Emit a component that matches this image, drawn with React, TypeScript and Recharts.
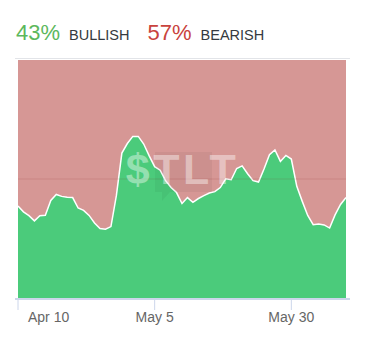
import { Area, AreaChart, CartesianGrid, ReferenceLine, XAxis, YAxis } from "recharts";

// share of bullish messages per day, Apr 10 .. Jun 9
const bullish = [
  38.7, 36.2, 34.6, 32.4, 34.6, 34.8, 41.0, 43.5, 42.7, 42.3,
  42.2, 37.8, 36.8, 34.7, 31.5, 29.2, 28.9, 30.0, 43.1, 60.9,
  64.9, 67.9, 67.9, 64.7, 59.7, 55.2, 53.7, 49.3, 46.4, 44.3,
  39.7, 42.2, 40.2, 41.8, 43.0, 44.1, 44.7, 46.4, 50.1, 49.7,
  54.4, 55.5, 52.2, 49.3, 48.7, 54.2, 60.2, 62.2, 57.4, 59.9,
  58.4, 46.9, 40.6, 34.7, 30.8, 31.1, 30.7, 29.4, 34.9, 39.3,
  42.2,
];
const tickDays = [0, 25, 50];
const tickLabels = ["Apr 10", "May 5", "May 30"];
const summary = { bull: "43%", bear: "57%" };
const symbol = "$TLT";

const data = bullish.map((v, i) => ({ day: i, bullish: v }));

const font = '"Liberation Sans", Arial, sans-serif';

function DayTick(props: any) {
  const { x, y, index } = props;
  const first = index === 0;
  return (
    <g>
      <line x1={x} x2={x} y1={y + 1} y2={y + 12} stroke="#ccd6eb" strokeWidth={1} />
      <text
        x={first ? x + 10 : x}
        y={y + 23.5}
        textAnchor={first ? "start" : "middle"}
        fill="#666"
        fontSize={14}
        fontFamily={font}
      >
        {tickLabels[index]}
      </text>
    </g>
  );
}

export default function App() {
  return (
    <div style={{ position: "absolute", left: 0, top: 0, width: 370, height: 355, background: "#fff", fontFamily: font }}>
      <div style={{ position: "absolute", left: 16, top: 22, display: "flex", alignItems: "baseline", lineHeight: "22px", whiteSpace: "nowrap" }}>
        <span style={{ fontSize: 22, color: "#5cb85c" }}>{summary.bull}</span>
        <span style={{ fontSize: 14.5, color: "#353a40", marginLeft: 9 }}>BULLISH</span>
        <span style={{ fontSize: 22, color: "#c9433d", marginLeft: 18 }}>{summary.bear}</span>
        <span style={{ fontSize: 14.5, color: "#353a40", marginLeft: 9 }}>BEARISH</span>
      </div>

      <AreaChart width={370} height={355} data={data} margin={{ top: 60, right: 24, bottom: 27, left: 18 }}>
        <CartesianGrid horizontal={false} vertical={false} fill="#d69795" stroke="none" />
        <XAxis
          dataKey="day"
          type="number"
          domain={[0, 60]}
          ticks={tickDays}
          axisLine={false}
          tickLine={false}
          tickSize={0}
          tickMargin={0}
          height={30}
          tick={<DayTick />}
          interval={0}
        />
        <YAxis hide domain={[0, 100]} />
        <Area
          type="linear"
          dataKey="bullish"
          fill="#4bcb7b"
          fillOpacity={1}
          stroke="#ffffff"
          strokeWidth={1.5}
          isAnimationActive={false}
          dot={false}
          activeDot={false}
        />
        <ReferenceLine y={50} stroke="#8a3030" strokeOpacity={0.15} strokeWidth={1.2} />
      </AreaChart>

      <div style={{ position: "absolute", left: 15, top: 57.5, width: 335, height: 1.5, background: "#e2e4e8" }} />
      <div style={{ position: "absolute", left: 15, top: 297.5, width: 335, height: 2, background: "#ccd6eb" }} />

      <svg width={370} height={355} style={{ position: "absolute", left: 0, top: 0, pointerEvents: "none" }}>
        <path d="M155 152 H212 V192 H170 L162 201 V192 H155 Z" fill="#000" fillOpacity={0.045} />
        <text
          x={182.5}
          y={184}
          textAnchor="middle"
          fontFamily={font}
          fontWeight="bold"
          fontSize={43}
          letterSpacing={3.5}
          fill="#ffffff"
          fillOpacity={0.42}
        >
          {symbol}
        </text>
      </svg>
    </div>
  );
}
